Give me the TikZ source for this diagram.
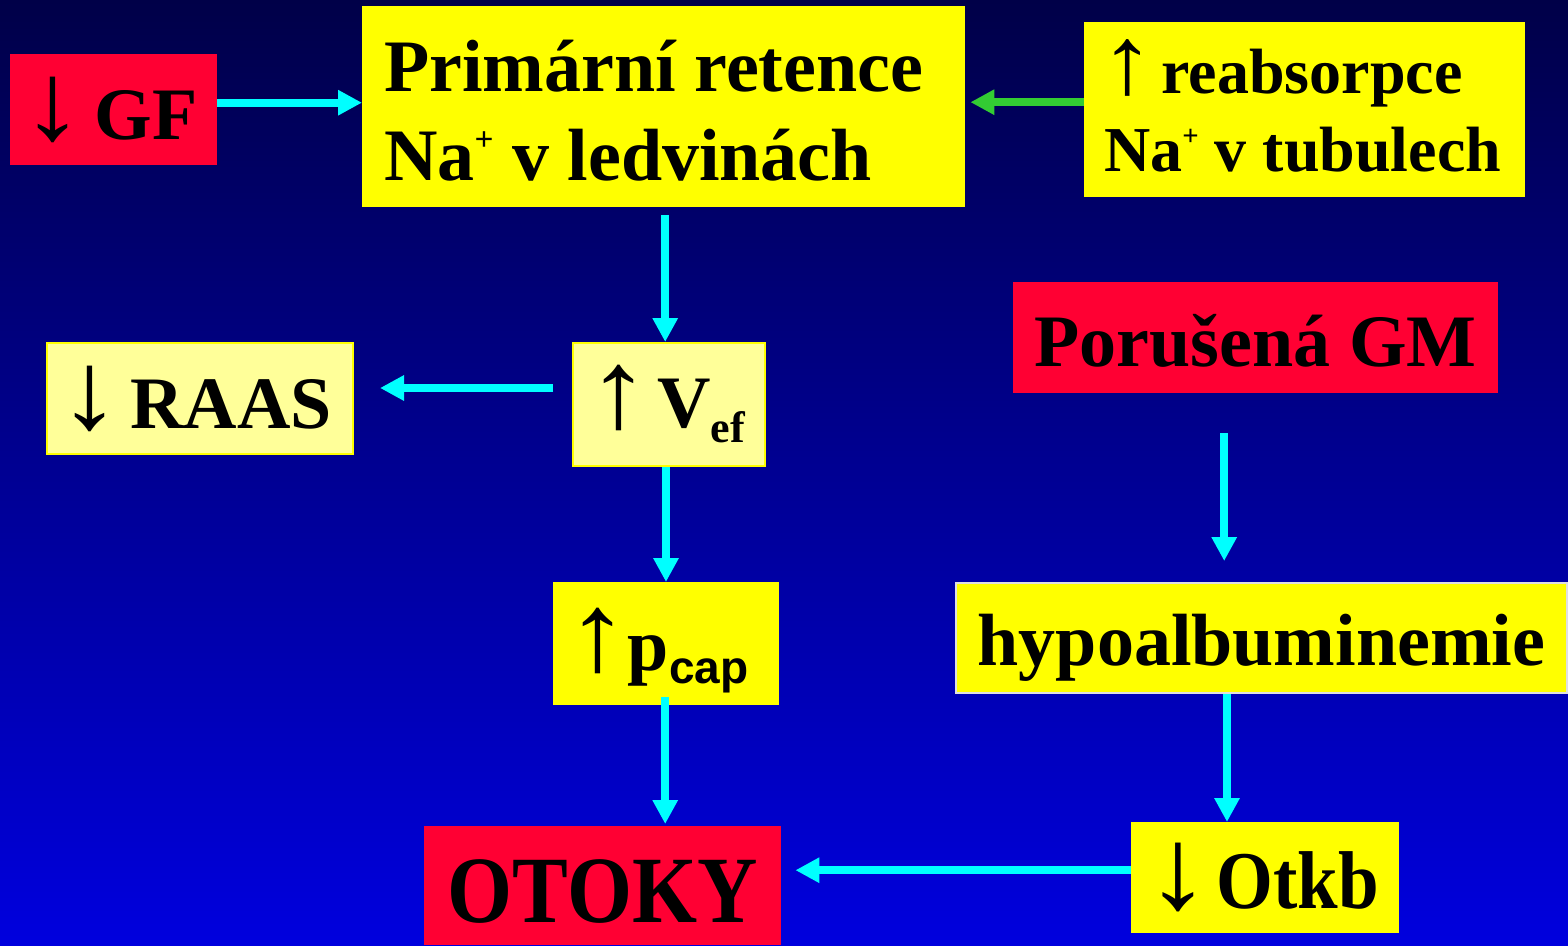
\documentclass[tikz,border=0pt]{standalone}
\usepackage{fontspec}
\usepackage{graphicx}
\setmainfont{Liberation Serif}
\newfontfamily\arrowfont{Liberation Serif}
\newfontfamily\capfont[UprightFont={* Bold}]{Liberation Sans}
\usetikzlibrary{arrows.meta}

\definecolor{bgtop}{RGB}{0,0,72}
\definecolor{bgbot}{RGB}{0,0,222}
\definecolor{boxred}{RGB}{255,0,51}
\definecolor{boxyellow}{RGB}{255,255,0}
\definecolor{boxpale}{RGB}{255,255,153}
\definecolor{linkcyan}{RGB}{0,255,255}
\definecolor{linkgreen}{RGB}{51,204,51}

% thin, tall arrows as in the slide's symbol font
\newcommand{\up}[2][1.7]{\scalebox{#1}[#2]{\arrowfont\mdseries\symbol{"2191}}}
\newcommand{\dn}[2][1.7]{\scalebox{#1}[#2]{\arrowfont\mdseries\symbol{"2193}}}
% small raised plus sign of the sodium ion
\newcommand{\ionplus}{\raisebox{.4em}{\scalebox{0.45}{+}}}
% move a label down inside its box without changing the box extents
\newcommand{\shiftdown}[2]{\raisebox{-#1}[\height][\depth]{#2}}

\tikzset{
  box/.style={anchor=north west, inner sep=0pt, align=center,
    font=\bfseries\fontsize{74}{89}\selectfont},
  redbox/.style={box, fill=boxred},
  yelbox/.style={box, fill=boxyellow},
  palebox/.style={box, fill=boxpale, draw=boxyellow, line width=2pt},
  link/.style={draw=linkcyan, line width=8pt,
    -{Triangle[width=24pt,length=24pt]}},
  greenlink/.style={link, draw=linkgreen}
}

\begin{document}
\begin{tikzpicture}[x=1pt,y=-1pt]
  \useasboundingbox (0,0) rectangle (1568,945);
  \shade[top color=bgtop, bottom color=bgbot] (0,0) rectangle (1568,945);

  % boxes
  \node[redbox, minimum width=207pt, minimum height=111pt] (GF) at (10,54)
    {\hspace*{-8pt}\dn{1.5}\hspace{10pt}GF};
  \node[yelbox, minimum width=603pt, minimum height=201pt] (Prim) at (362,6)
    {\hspace*{-20pt}\shiftdown{11pt}{\begin{tabular}{@{}l@{}}Primární retence\\Na\ionplus\ v ledvinách\end{tabular}}};
  \node[yelbox, minimum width=441pt, minimum height=175pt,
    font=\bfseries\fontsize{64}{78}\selectfont] (reab) at (1084,22)
    {\hspace*{-4pt}\shiftdown{7pt}{\begin{tabular}{@{}l@{}}\hspace*{-4pt}\up{1.5}\hspace{7pt}reabsorpce\\Na\ionplus\ v tubulech\end{tabular}}};
  \node[redbox, minimum width=485pt, minimum height=111pt] (GM) at (1013,282)
    {\shiftdown{3pt}{Porušená GM}};
  \node[palebox, minimum width=306pt, minimum height=111pt] (RAAS) at (46,342)
    {\hspace*{-10pt}\dn{1.5}\hspace{9pt}RAAS};
  \node[palebox, minimum width=192pt, minimum height=123pt] (Vef) at (572,342)
    {\hspace*{-6pt}\up{1.5}\hspace{7pt}V\raisebox{-15pt}{\fontsize{44}{44}\selectfont ef}};
  \node[yelbox, minimum width=226pt, minimum height=123pt] (pcap) at (553,582)
    {\hspace*{-18pt}\shiftdown{7pt}{\up{1.5}\kern-1pt p\raisebox{-13pt}{\fontsize{46}{46}\capfont cap}}};
  \node[yelbox, draw=white!88!black, line width=2pt,
    minimum width=611pt, minimum height=110pt] (hypo) at (955,582)
    {\shiftdown{10pt}{hypoalbuminemie}};
  \node[redbox, minimum width=357pt, minimum height=119pt] (OTOKY) at (424,826)
    {\shiftdown{6pt}{\scalebox{0.88}[1]{\fontsize{95}{95}\selectfont OTOKY}}};
  \node[yelbox, minimum width=268pt, minimum height=111pt] (Otkb) at (1131,822)
    {\hspace*{-6pt}\scalebox{0.89}[1]{\fontsize{82}{82}\selectfont\dn[1.8]{1.42}\hspace{6pt}Otkb}};

  % connectors
  \draw[link] ([yshift=7pt]GF.east) -- ([yshift=7pt]GF.east -| Prim.west);
  \draw[greenlink, shorten >=5pt] ([yshift=7.5pt]reab.west) -- ([yshift=7.5pt]reab.west -| Prim.east);
  \draw[link, shorten <=8pt] ([xshift=1.5pt]Prim.south) -- ([xshift=1.5pt]Prim.south |- Vef.north);
  \draw[link, shorten <=19pt, shorten >=26pt] ([yshift=16.5pt]Vef.west) -- ([yshift=16.5pt]Vef.west -| RAAS.east);
  \draw[link] ([xshift=-3pt]Vef.south) -- ([xshift=-3pt]Vef.south |- pcap.north);
  \draw[link, shorten <=-8pt, shorten >=2pt] ([xshift=-1pt]pcap.south) -- ([xshift=-1pt]pcap.south |- OTOKY.north);
  \draw[link, shorten <=40pt, shorten >=21pt] ([xshift=-31.5pt]GM.south) -- ([xshift=-31.5pt]GM.south |- hypo.north);
  \draw[link] ([xshift=-34.5pt]hypo.south) -- ([xshift=-34.5pt]hypo.south |- Otkb.north);
  \draw[link, shorten >=14pt] ([yshift=7.5pt]Otkb.west) -- ([yshift=7.5pt]Otkb.west -| OTOKY.east);
\end{tikzpicture}
\end{document}
